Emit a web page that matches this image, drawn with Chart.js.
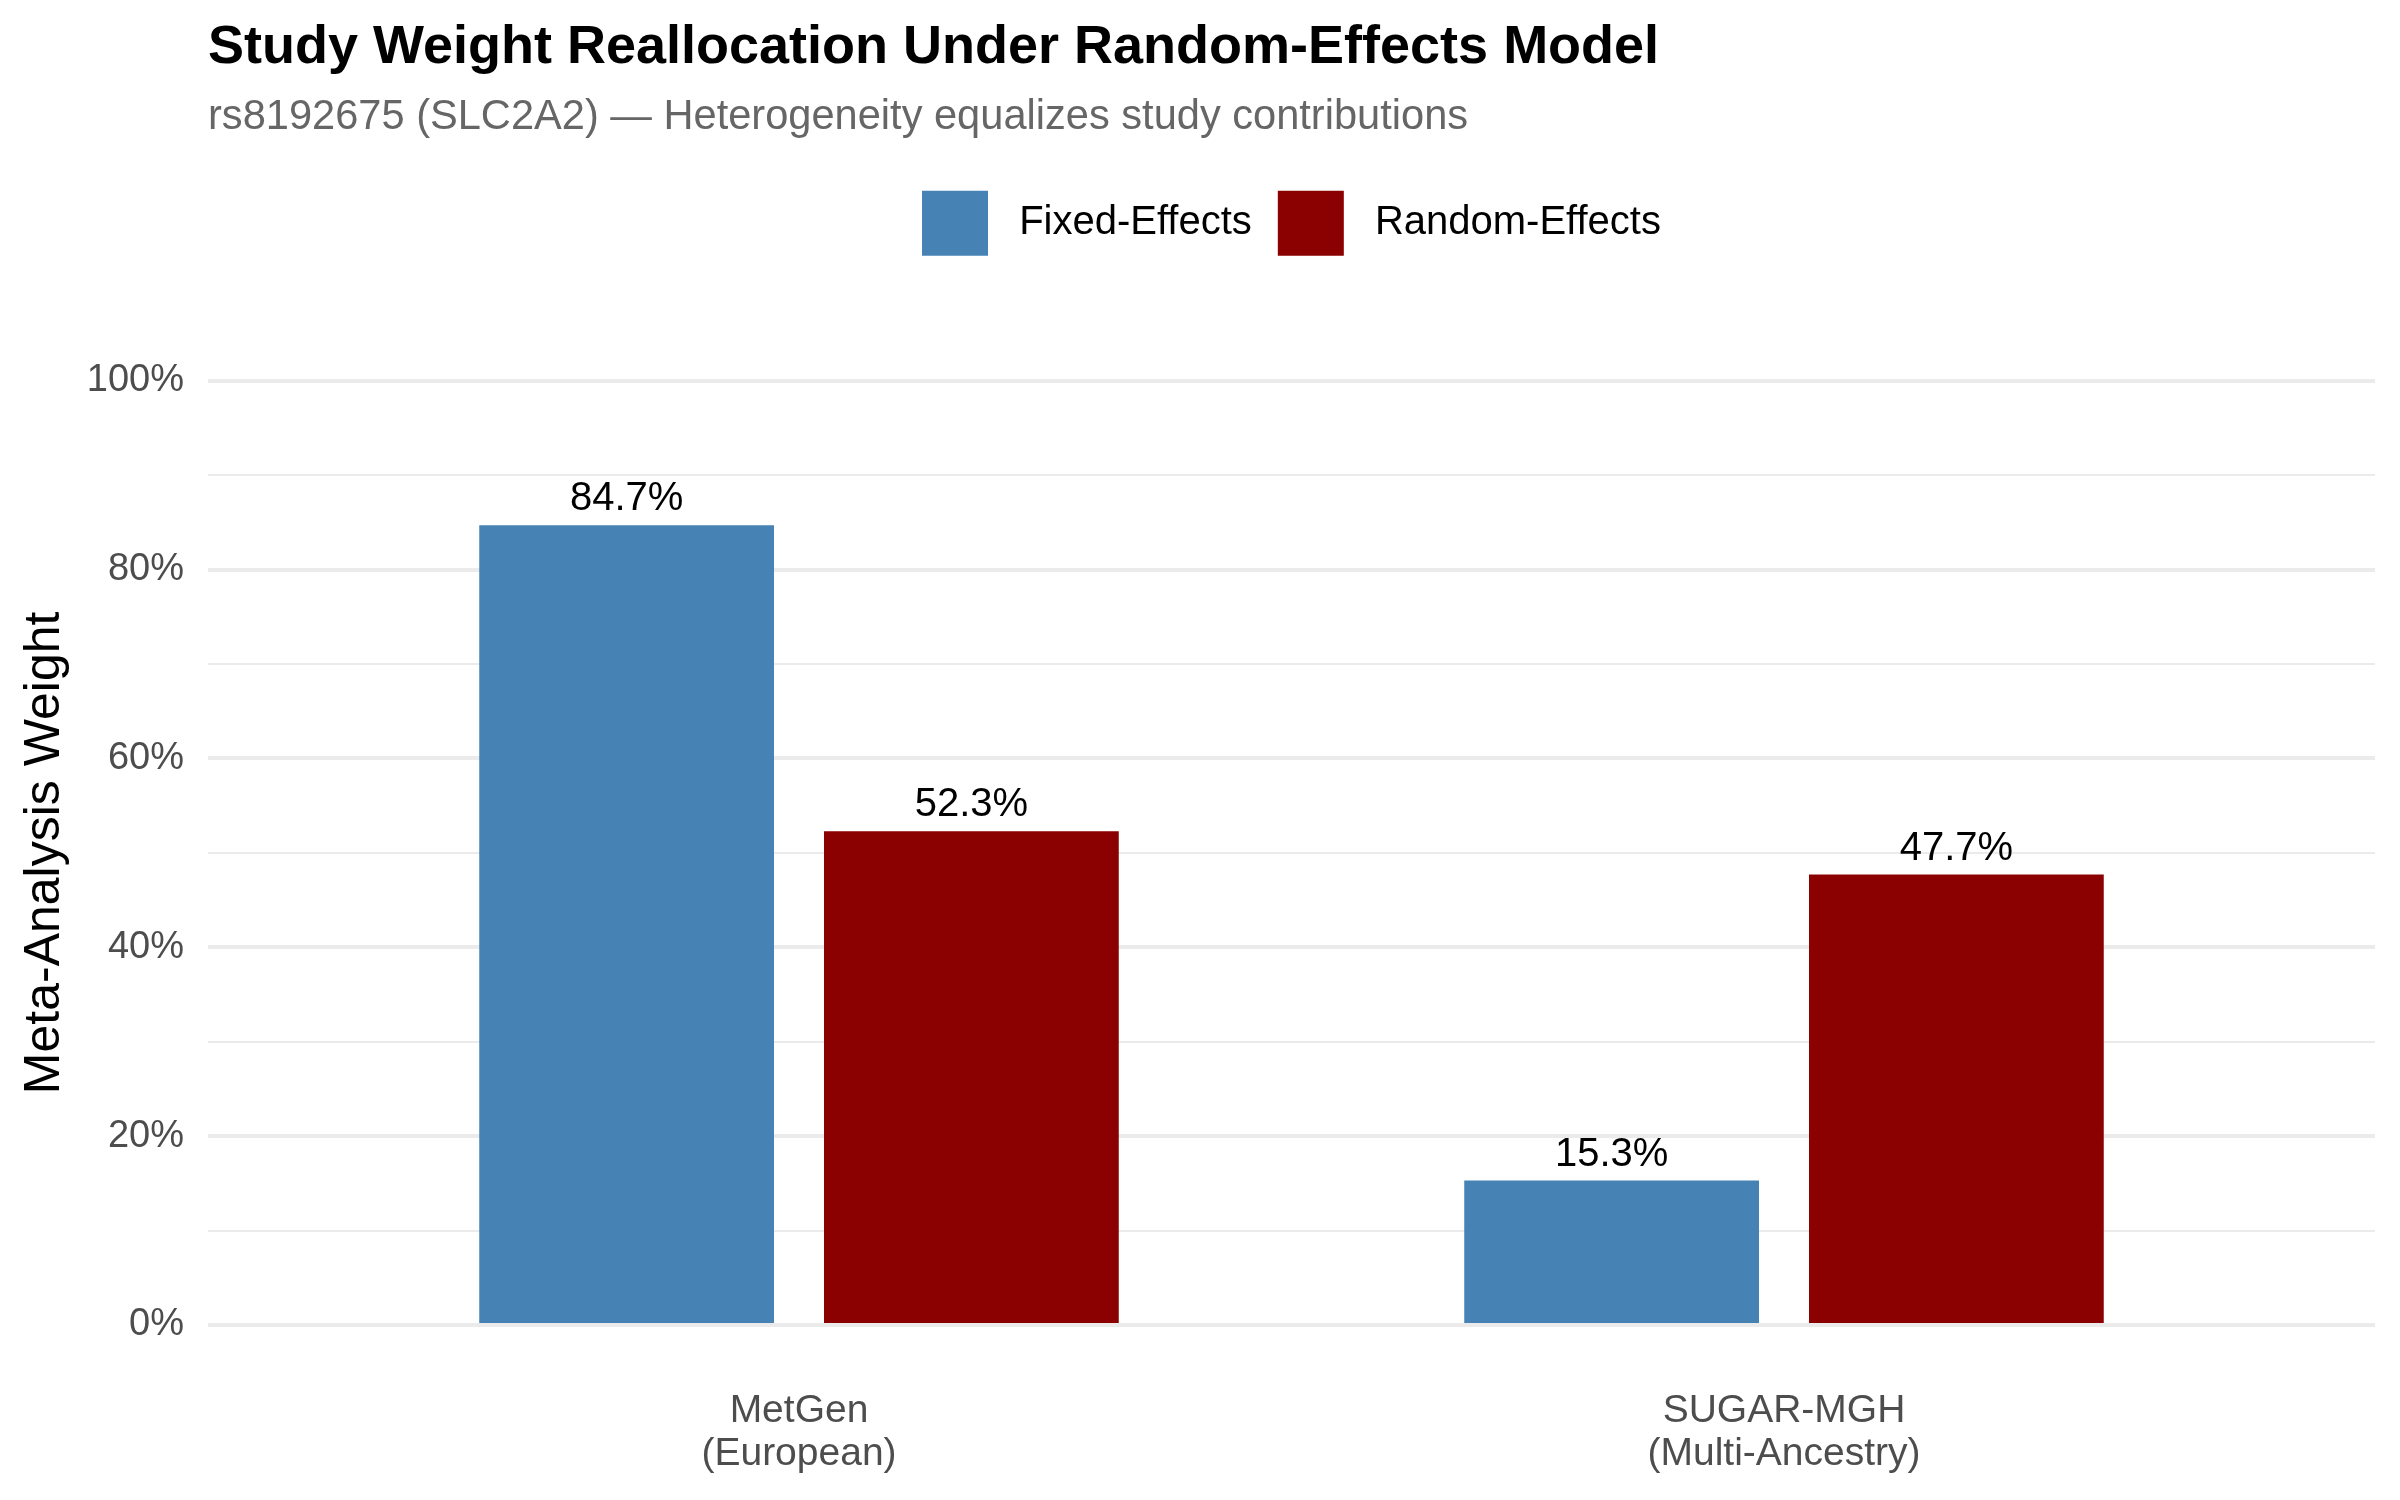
<!DOCTYPE html>
<html>
<head>
<meta charset="utf-8">
<script src="https://cdn.jsdelivr.net/npm/chart.js@4.4.1/dist/chart.umd.min.js"></script>
<style>
  html, body { margin: 0; padding: 0; background: #ffffff; }
  #wrap { width: 2400px; height: 1500px; }
</style>
</head>
<body>
<div id="wrap"><canvas id="weightChart" width="2400" height="1500"></canvas></div>
<script>
// Study weights (%) under each model
const studies = ['MetGen', 'SUGAR-MGH'];
const ancestries = ['(European)', '(Multi-Ancestry)'];
const fixedWeights = [84.7, 15.3];
const randomWeights = [52.3, 47.7];
const seriesNames = ['Fixed-Effects', 'Random-Effects'];
const yTickValues = [0, 20, 40, 60, 80, 100];

const FONT = '"Liberation Sans", Arial, sans-serif';
Chart.defaults.font.family = FONT;

// Write the value above each bar
const barLabels = {
    id: 'barLabels',
    afterDatasetsDraw(chart) {
        const ctx = chart.ctx;
        ctx.save();
        ctx.font = '40px ' + FONT;
        ctx.fillStyle = '#000000';
        ctx.textAlign = 'center';
        ctx.textBaseline = 'alphabetic';
        chart.data.datasets.forEach((ds, i) => {
            chart.getDatasetMeta(i).data.forEach((bar, j) => {
                ctx.fillText(ds.data[j].y.toFixed(1) + '%', bar.x, bar.y - 15);
            });
        });
        ctx.restore();
    }
};

// Fixed legend block height, leaves room above the plot
const legendGap = {
    id: 'legendGap',
    beforeInit(chart) {
        const fit = chart.legend.fit;
        chart.legend.fit = function () {
            fit.call(this);
            this.height = 216;
        };
    }
};

const toPoints = values => values.map((v, i) => ({ x: i, y: v }));

new Chart(document.getElementById('weightChart'), {
    type: 'bar',
    data: {
        datasets: [
            {
                label: seriesNames[0],
                data: toPoints(fixedWeights),
                backgroundColor: '#4682B4',
                borderWidth: 0
            },
            {
                label: seriesNames[1],
                data: toPoints(randomWeights),
                backgroundColor: '#8B0000',
                borderWidth: 0
            }
        ]
    },
    options: {
        responsive: false,
        animation: false,
        devicePixelRatio: 1,
        categoryPercentage: 0.7,
        barPercentage: 0.855,
        layout: { padding: { left: 0, right: 25, top: 0, bottom: 0 } },
        plugins: {
            title: {
                display: true,
                text: 'Study Weight Reallocation Under Random-Effects Model',
                align: 'start',
                fullSize: false,
                color: '#000000',
                font: { size: 54, weight: 'bold', lineHeight: 1.2 },
                padding: { top: 16, bottom: 9 }
            },
            subtitle: {
                display: true,
                text: 'rs8192675 (SLC2A2) \u2014 Heterogeneity equalizes study contributions',
                align: 'start',
                fullSize: false,
                color: '#666666',
                font: { size: 41.6, lineHeight: 1.2 },
                padding: { top: 3, bottom: 22 }
            },
            legend: {
                position: 'top',
                align: 'center',
                fullSize: false,
                labels: {
                    boxWidth: 66,
                    boxHeight: 65,
                    padding: 26,
                    color: '#000000',
                    font: { size: 40 },
                    // a little more air between swatch and text
                    generateLabels: chart => Chart.defaults.plugins.legend.labels.generateLabels(chart)
                        .map(item => Object.assign(item, { text: ' ' + item.text }))
                }
            },
            tooltip: { enabled: false }
        },
        scales: {
            x: {
                type: 'linear',
                min: -0.6,
                max: 1.6,
                offset: false,
                grid: { display: false, drawTicks: false },
                border: { display: false },
                afterBuildTicks: scale => {
                    scale.ticks = studies.map((s, i) => ({ value: i }));
                },
                afterFit: scale => { scale.height = 175; },
                ticks: {
                    autoSkip: false,
                    maxRotation: 0,
                    padding: 65,
                    color: '#4d4d4d',
                    font: { size: 39, lineHeight: 1.1 },
                    callback: v => [studies[v], ancestries[v]]
                }
            },
            y: {
                min: 0,
                max: 100,
                border: { display: false },
                afterFit: scale => { scale.width = 208; },
                grid: {
                    drawTicks: false,
                    color: '#ebebeb',
                    lineWidth: c => (c.tick && yTickValues.includes(c.tick.value)) ? 4 : 2
                },
                ticks: {
                    stepSize: 10,
                    padding: 24,
                    color: '#4d4d4d',
                    font: { size: 38 },
                    callback: v => yTickValues.includes(v) ? v + '%' : ''
                },
                title: {
                    display: true,
                    text: 'Meta-Analysis Weight',
                    color: '#000000',
                    font: { size: 50 },
                    padding: { top: 15, bottom: 8 }
                }
            }
        }
    },
    plugins: [barLabels, legendGap]
});
</script>
</body>
</html>
